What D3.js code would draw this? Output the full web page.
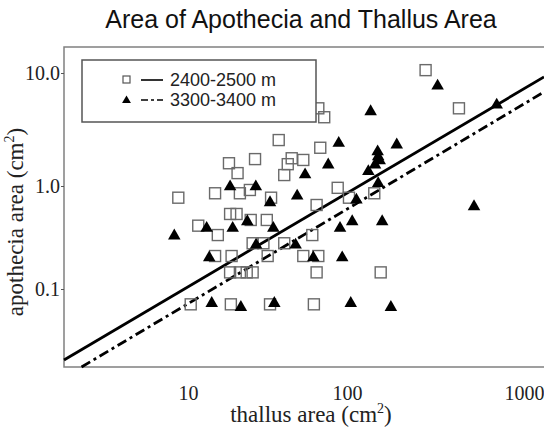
<!DOCTYPE html>
<html>
<head>
<meta charset="utf-8">
<script src="https://cdn.jsdelivr.net/npm/d3@7"></script>
<style>
  body { margin: 0; background: #fff; }
</style>
</head>
<body>
<div id="chart"></div>
<script>
// series names (legend)
const seriesNames = ["2400-2500 m", "3300-3400 m"];

// 2400-2500 m : thallus area (cm2) / apothecia area (cm2)
const lowThallus = [278, 66.0, 71.9, 429, 37.2, 67.9, 18.1, 26.4, 44.9, 53.1, 42.4, 20.5, 40.3, 8.69, 14.8, 21.2,
  24.5, 33.3, 87.4, 64.4, 102.6, 142.6, 18.4, 20.2, 11.6, 15.4, 24.8, 31.3, 60.5, 25.5, 29.8, 40.3, 14.8, 18.8,
  31.7, 53.1, 66.0, 18.4, 21.2, 23.4, 25.5, 64.4, 155, 10.4, 18.6, 32.8, 61.9];
const lowApothecia = [10.6, 4.87, 4.06, 4.87, 2.55, 2.18, 1.59, 1.73, 1.76, 1.70, 1.56, 1.30, 1.25, 0.77, 0.85, 0.85,
  0.915, 0.77, 0.96, 0.654, 0.77, 0.85, 0.535, 0.535, 0.412, 0.334, 0.468, 0.468, 0.334, 0.278, 0.278, 0.278, 0.209, 0.209,
  0.209, 0.209, 0.209, 0.145, 0.145, 0.145, 0.145, 0.145, 0.145, 0.071, 0.071, 0.071, 0.071];

// 3300-3400 m
const highThallus = [325, 701, 136, 88.7, 191, 149, 150, 153, 144, 132, 76.2, 54.5, 150, 18.4, 26.7, 48.6, 32.8,
  113, 522, 8.2, 13.1, 19.1, 23.6, 34.4, 90.4, 107, 158, 26.8, 47.5, 13.6, 61.4, 93.3, 14.1, 21.5, 34.9, 105, 177];
const highApothecia = [7.94, 5.39, 4.71, 2.47, 2.39, 2.08, 1.88, 1.73, 1.59, 1.39, 1.59, 1.30, 1.09, 1.02, 1.02, 0.83, 0.715,
  0.76, 0.654, 0.34, 0.403, 0.403, 0.468, 0.403, 0.403, 0.468, 0.468, 0.278, 0.278, 0.209, 0.209, 0.209, 0.0753, 0.0689,
  0.0753, 0.0753, 0.0689];

// fitted lines (end points, data units)
const lowFit = [[1.66, 0.0205], [1300, 9.22]];
const highFit = [[2.14, 0.0175], [1300, 6.79]];

// ticks
const xTicks = [10, 100, 1000];
const xTickLabels = ["10", "100", "1000"];
const yTicks = [0.1, 1, 10];
const yTickLabels = ["0.1", "1.0", "10.0"];

const width = 544, height = 431;
const plotLeft = 64, plotTop = 47, plotBottom = 367, plotRight = 546;

const svg = d3.select('#chart').append('svg')
  .attr('width', width)
  .attr('height', height);

// the scanned axes are not quite even per decade, so the scales are piecewise
const x = d3.scaleLog()
  .domain([1.66, 10, 100, 1000, 1300])
  .range([plotLeft, 188, 347, 524, 544]);
const y = d3.scaleLog()
  .domain([0.0175, 0.1, 1, 10, 17])
  .range([plotBottom, 289, 186, 73, plotTop]);

// title
svg.append('text')
  .attr('x', 301).attr('y', 28)
  .attr('text-anchor', 'middle')
  .style('font-family', '"Liberation Sans", Arial, sans-serif')
  .style('font-size', '25px')
  .attr('fill', '#111')
  .text('Area of Apothecia and Thallus Area');

// frame (left, top, bottom; right side runs off the picture)
svg.append('path')
  .attr('d', `M${plotRight},${plotTop}H${plotLeft}V${plotBottom}H${plotRight}`)
  .attr('fill', 'none')
  .attr('stroke', '#808080')
  .attr('stroke-width', 1.5);

// axes
const yAxis = svg.append('g')
  .attr('transform', `translate(${plotLeft},0)`)
  .call(d3.axisLeft(y).tickValues(yTicks).tickFormat((d, i) => yTickLabels[i]).tickSize(3).tickPadding(1));
yAxis.select('.domain').remove();
yAxis.selectAll('line').attr('stroke', '#555');
yAxis.selectAll('text')
  .style('font-family', '"Liberation Serif", "Times New Roman", serif')
  .style('font-size', '20px')
  .attr('fill', '#222');

const xAxis = svg.append('g')
  .attr('transform', `translate(0,${plotBottom})`)
  .call(d3.axisBottom(x).tickValues(xTicks).tickFormat((d, i) => xTickLabels[i]).tickSize(0).tickPadding(19));
xAxis.select('.domain').remove();
xAxis.selectAll('text')
  .style('font-family', '"Liberation Serif", "Times New Roman", serif')
  .style('font-size', '20px')
  .attr('fill', '#222');

// axis titles
const xTitle = svg.append('text')
  .attr('x', 311).attr('y', 422)
  .attr('text-anchor', 'middle')
  .style('font-family', '"Liberation Serif", "Times New Roman", serif')
  .style('font-size', '23px')
  .attr('fill', '#222');
xTitle.append('tspan').text('thallus area (cm');
xTitle.append('tspan').attr('dy', -9).style('font-size', '14px').text('2');
xTitle.append('tspan').attr('dy', 9).text(')');

const yTitle = svg.append('text')
  .attr('transform', 'translate(23,222) rotate(-90)')
  .attr('text-anchor', 'middle')
  .style('font-family', '"Liberation Serif", "Times New Roman", serif')
  .style('font-size', '23px')
  .attr('fill', '#222');
yTitle.append('tspan').text('apothecia area (cm');
yTitle.append('tspan').attr('dy', -9).style('font-size', '14px').text('2');
yTitle.append('tspan').attr('dy', 9).text(')');

// fitted lines
const line = d3.line().x(d => x(d[0])).y(d => y(d[1]));
svg.append('path')
  .datum(lowFit)
  .attr('d', line)
  .attr('fill', 'none')
  .attr('stroke', '#000')
  .attr('stroke-width', 2.8);
svg.append('path')
  .datum(highFit)
  .attr('d', line)
  .attr('fill', 'none')
  .attr('stroke', '#000')
  .attr('stroke-width', 2.8)
  .attr('stroke-dasharray', '10,4,3,4');

// points
const lowPoints = lowThallus.map((t, i) => ({ t: t, a: lowApothecia[i] }));
const highPoints = highThallus.map((t, i) => ({ t: t, a: highApothecia[i] }));

svg.append('g').selectAll('rect')
  .data(lowPoints)
  .enter().append('rect')
  .attr('x', d => x(d.t) - 5.5)
  .attr('y', d => y(d.a) - 5.5)
  .attr('width', 11).attr('height', 11)
  .attr('fill', 'none')
  .attr('stroke', '#6a6a6a')
  .attr('stroke-width', 1.4);

const tri = d3.symbol().type(d3.symbolTriangle).size(68);
svg.append('g').selectAll('path')
  .data(highPoints)
  .enter().append('path')
  .attr('transform', d => `translate(${x(d.t)},${y(d.a) + 1.6})`)
  .attr('d', tri)
  .attr('fill', '#000');

// legend
const legend = svg.append('g');
legend.append('rect')
  .attr('x', 82).attr('y', 60)
  .attr('width', 234).attr('height', 62)
  .attr('fill', '#fff')
  .attr('stroke', '#555')
  .attr('stroke-width', 1.5);

const rows = legend.selectAll('g.row')
  .data(seriesNames)
  .enter().append('g')
  .attr('class', 'row')
  .attr('transform', (d, i) => `translate(0,${80 + i * 20})`);

rows.filter((d, i) => i === 0).append('rect')
  .attr('x', 123).attr('y', -4)
  .attr('width', 7).attr('height', 7)
  .attr('fill', 'none')
  .attr('stroke', '#555')
  .attr('stroke-width', 1.2);
rows.filter((d, i) => i === 1).append('path')
  .attr('transform', 'translate(126.5,0.5)')
  .attr('d', d3.symbol().type(d3.symbolTriangle).size(34))
  .attr('fill', '#000');

rows.append('line')
  .attr('x1', 141).attr('x2', 163)
  .attr('y1', 0).attr('y2', 0)
  .attr('stroke', '#000')
  .attr('stroke-width', 1.6)
  .attr('stroke-dasharray', (d, i) => i === 0 ? null : '7,3,3,3');

rows.append('text')
  .attr('x', 170).attr('y', 0)
  .attr('dy', '0.35em')
  .style('font-family', '"Liberation Sans", Arial, sans-serif')
  .style('font-size', '18px')
  .attr('fill', '#222')
  .text(d => d);
</script>
</body>
</html>
